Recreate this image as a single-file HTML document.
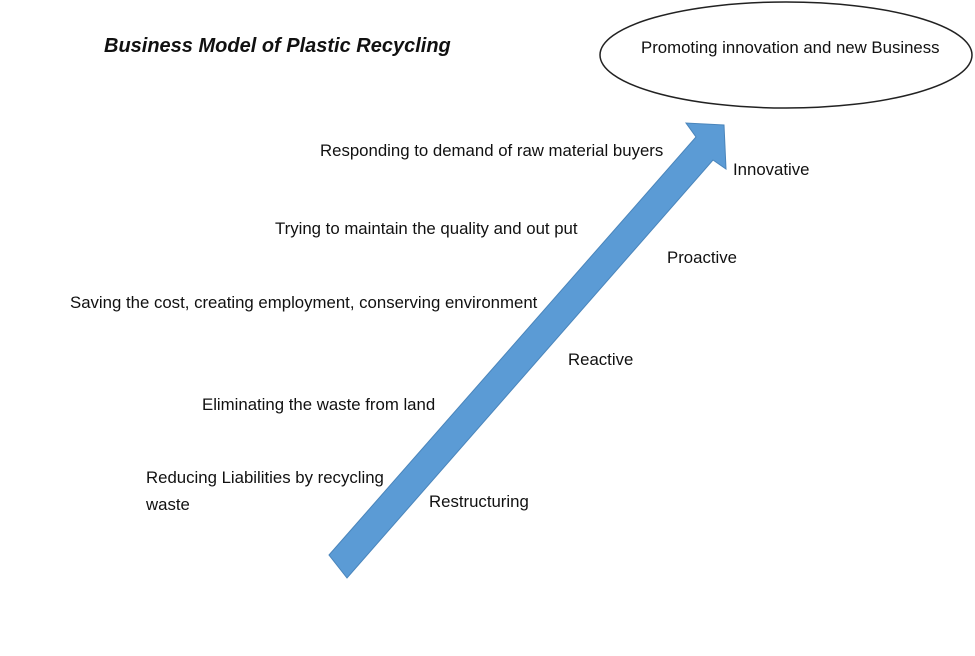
<!DOCTYPE html>
<html><head><style>
body{margin:0;background:#fff;}
.c{position:relative;width:975px;height:656px;overflow:hidden;font-family:"Liberation Sans",sans-serif;color:#111;}
.t{position:absolute;font-size:16.8px;white-space:nowrap;line-height:22px;}
</style></head><body><div class="c">
<svg width="975" height="656" style="position:absolute;left:0;top:0">
<ellipse cx="786" cy="55" rx="186" ry="53" fill="none" stroke="#222" stroke-width="1.5"/>
<polygon points="329,555 696,137 686,123 724,125 726,169 713,160 347,578" fill="#5b9bd5" stroke="#4a85bb" stroke-width="1"/>
</svg>
<div class="t" style="left:104px;top:35px;font-size:20px;font-weight:bold;font-style:italic;">Business Model of Plastic Recycling</div>
<div class="t" style="left:641px;top:37px;">Promoting innovation and new Business</div>
<div class="t" style="left:320px;top:140px;">Responding to demand of raw material buyers</div>
<div class="t" style="left:733px;top:159px;">Innovative</div>
<div class="t" style="left:275px;top:218px;">Trying to maintain the quality and out put</div>
<div class="t" style="left:667px;top:247px;">Proactive</div>
<div class="t" style="left:70px;top:292px;">Saving the cost, creating employment, conserving environment</div>
<div class="t" style="left:568px;top:349px;">Reactive</div>
<div class="t" style="left:202px;top:394px;">Eliminating the waste from land</div>
<div class="t" style="left:146px;top:467px;">Reducing Liabilities by recycling</div>
<div class="t" style="left:146px;top:494px;">waste</div>
<div class="t" style="left:429px;top:491px;">Restructuring</div>
</div></body></html>
